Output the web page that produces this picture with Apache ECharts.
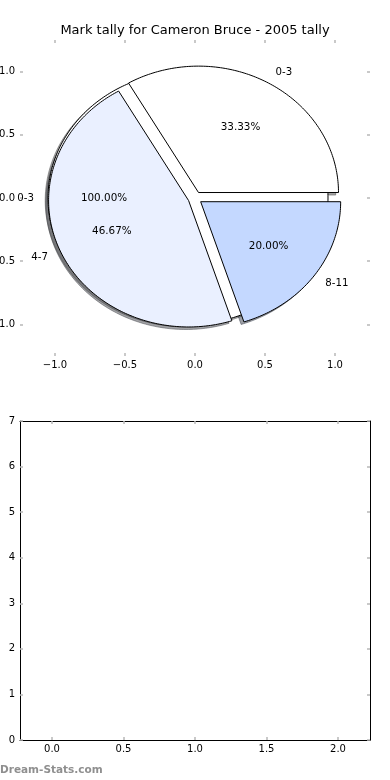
<!DOCTYPE html>
<html><head><meta charset="utf-8">
<script src="https://cdn.jsdelivr.net/npm/echarts@6/dist/echarts.min.js"></script>
<style>html,body{margin:0;padding:0;background:#fff}#c{width:390px;height:780px}</style>
</head><body><div id="c"></div>
<script>
const chartTitle = 'Mark tally for Cameron Bruce - 2005 tally';
const watermark = 'Dream-Stats.com';
const basePieLabels = ['0-3'];
const basePieValues = [100];
const markLabels = ['0-3', '4-7', '8-11'];
const markValues = [33.33, 46.67, 20.00];
const markColors = ['#ffffff', '#eaf0ff', '#c4d8ff'];
const pieXTicks = [-1.0, -0.5, 0.0, 0.5, 1.0];
const pieYTicks = [-1.0, -0.5, 0.0, 0.5, 1.0];
const lowerXTicks = [0.0, 0.5, 1.0, 1.5, 2.0];
const lowerYTicks = [0, 1, 2, 3, 4, 5, 6, 7];

const EXPLODE = 0.05, LABEL_DIST = 1.1, PCT_DIST = 0.6, SHADOW = [-0.02, -0.02];
const FONT = "'DejaVu Sans', sans-serif";

function wedges(values, labels, colors, pieId) {
  const total = values.reduce((a, b) => a + b, 0);
  let acc = 0;
  return values.map((v, i) => {
    const t1 = acc / total * 360; acc += v; const t2 = acc / total * 360;
    const mid = (t1 + t2) / 2 * Math.PI / 180;
    return { pie: pieId, label: labels[i], pct: v / total * 100, t1, t2, mid, color: colors[i],
      cx: EXPLODE * Math.cos(mid), cy: EXPLODE * Math.sin(mid) };
  });
}
const allWedges = [
  ...wedges(basePieValues, basePieLabels, markColors, 0),
  ...wedges(markValues, markLabels, markColors, 1)
];
const wedgeData = allWedges.map((w, i) => [w.cx, w.cy, i]);

function wedgePoints(w, api, dx, dy) {
  const pts = [];
  const full = (w.t2 - w.t1) >= 359.999;
  if (!full) pts.push(api.coord([w.cx + dx, w.cy + dy]));
  const n = Math.max(8, Math.ceil(w.t2 - w.t1));
  for (let k = 0; k <= n; k++) {
    const a = (w.t1 + (w.t2 - w.t1) * k / n) * Math.PI / 180;
    pts.push(api.coord([w.cx + dx + Math.cos(a), w.cy + dy + Math.sin(a)]));
  }
  return pts;
}
function shadowColor(hex) {
  const r = parseInt(hex.slice(1, 3), 16), g = parseInt(hex.slice(3, 5), 16), b = parseInt(hex.slice(5, 7), 16);
  return 'rgb(' + Math.round(r * 0.3) + ',' + Math.round(g * 0.3) + ',' + Math.round(b * 0.3) + ')';
}
const fmt1 = v => (v < 0 ? '\u2212' + Math.abs(v).toFixed(1) : Math.abs(v).toFixed(1));
const tickStyle = { color: '#b8b8b8', width: 1.5 };

function pieAxisX(pos, showLabel) {
  return { gridIndex: 0, type: 'value', min: -1.25, max: 1.25, position: pos,
    axisLine: { show: false, onZero: false }, splitLine: { show: false },
    axisTick: { show: true, inside: true, length: 3, lineStyle: tickStyle, customValues: pieXTicks },
    axisLabel: { show: showLabel, customValues: pieXTicks, formatter: fmt1, color: '#000', fontSize: 10, fontFamily: FONT, margin: 4 } };
}
function pieAxisY(pos, showLabel) {
  return { gridIndex: 0, type: 'value', min: -1.25, max: 1.25, position: pos,
    axisLine: { show: false, onZero: false }, splitLine: { show: false },
    axisTick: { show: true, inside: true, length: 3, lineStyle: tickStyle, customValues: pieYTicks },
    axisLabel: { show: showLabel, customValues: pieYTicks, formatter: fmt1, color: '#000', fontSize: 10, fontFamily: FONT, margin: 5 } };
}
function lowAxisX(pos, showLabel) {
  return { gridIndex: 1, type: 'value', min: -0.224, max: 2.224, position: pos,
    axisLine: { show: true, onZero: false, lineStyle: { color: '#000', width: 1 } }, splitLine: { show: false },
    axisTick: { show: true, inside: true, length: 3, lineStyle: tickStyle, customValues: lowerXTicks },
    axisLabel: { show: showLabel, customValues: lowerXTicks, formatter: v => v.toFixed(1), color: '#000', fontSize: 10, fontFamily: FONT, margin: 4 } };
}
function lowAxisY(pos, showLabel) {
  return { gridIndex: 1, type: 'value', min: 0, max: 7, interval: 1, position: pos,
    axisLine: { show: true, onZero: false, lineStyle: { color: '#000', width: 1 } }, splitLine: { show: false },
    axisTick: { show: true, inside: true, length: 3, lineStyle: tickStyle, customValues: lowerYTicks },
    axisLabel: { show: showLabel, customValues: lowerYTicks, formatter: v => String(v), color: '#000', fontSize: 10, fontFamily: FONT, margin: 5 } };
}

const chart = echarts.init(document.getElementById('c'), null, { renderer: 'canvas' });
chart.setOption({
  animation: false,
  backgroundColor: '#fff',
  title: { text: chartTitle, left: 'center', top: 19,
    textStyle: { fontSize: 13, fontWeight: 'normal', fontFamily: FONT, color: '#000' } },
  graphic: [{ type: 'text', left: 0, top: 765,
    style: { text: watermark, fill: '#8f8f8f', fontSize: 10.5, fontWeight: 'bold', fontFamily: FONT } }],
  grid: [
    { left: 20, top: 40, width: 350, height: 316, outerBoundsMode: 'none', containLabel: false },
    { left: 20, top: 421, width: 350, height: 319, outerBoundsMode: 'none', containLabel: false }
  ],
  xAxis: [pieAxisX('bottom', true), pieAxisX('top', false), lowAxisX('bottom', true), lowAxisX('top', false)],
  yAxis: [pieAxisY('left', true), pieAxisY('right', false), lowAxisY('left', true), lowAxisY('right', false)],
  series: [
    { type: 'custom', name: 'shadows', xAxisIndex: 0, yAxisIndex: 0, clip: false, silent: true,
      data: wedgeData,
      renderItem: (params, api) => {
        const w = allWedges[params.dataIndex];
        const c = shadowColor(w.color);
        return { type: 'polygon', shape: { points: wedgePoints(w, api, SHADOW[0], SHADOW[1]) },
          style: { fill: c, stroke: c, lineWidth: 1, opacity: 0.5 } };
      } },
    { type: 'custom', name: 'wedges', xAxisIndex: 0, yAxisIndex: 0, clip: false, silent: true,
      data: wedgeData,
      renderItem: (params, api) => {
        const w = allWedges[params.dataIndex];
        return { type: 'polygon', shape: { points: wedgePoints(w, api, 0, 0) },
          style: { fill: w.color, stroke: '#000', lineWidth: 1, lineJoin: 'miter' } };
      } },
    { type: 'custom', name: 'labels', xAxisIndex: 0, yAxisIndex: 0, clip: false, silent: true,
      data: wedgeData,
      renderItem: (params, api) => {
        const w = allWedges[params.dataIndex];
        const lx = w.cx + LABEL_DIST * Math.cos(w.mid), ly = w.cy + LABEL_DIST * Math.sin(w.mid);
        const px = w.cx + PCT_DIST * Math.cos(w.mid), py = w.cy + PCT_DIST * Math.sin(w.mid);
        const lp = api.coord([lx, ly]), pp = api.coord([px, py]);
        return { type: 'group', children: [
          { type: 'text', style: { x: lp[0], y: lp[1], text: w.label, fill: '#000', fontSize: 10.2, fontFamily: FONT,
              align: lx > 0 ? 'left' : 'right', verticalAlign: 'middle' } },
          { type: 'text', style: { x: pp[0], y: pp[1], text: w.pct.toFixed(2) + '%', fill: '#000', fontSize: 10.4, fontFamily: FONT,
              align: 'center', verticalAlign: 'middle' } }
        ] };
      } }
  ]
});
</script>
</body></html>
